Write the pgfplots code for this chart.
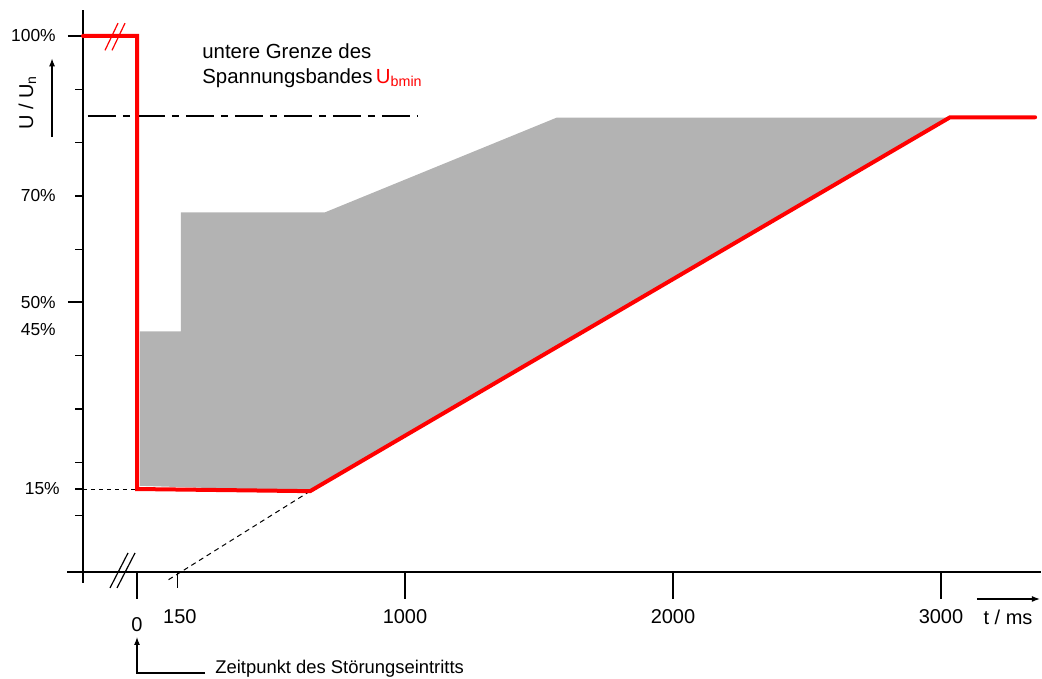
\documentclass[border=0pt]{standalone}
\usepackage{fontspec}
\setmainfont{Liberation Sans}
\usepackage{pgfplots}
\pgfplotsset{compat=1.18}
\usetikzlibrary{arrows.meta}
\definecolor{band}{RGB}{179,179,179}
\definecolor{ured}{RGB}{255,0,0}

\begin{document}
\begin{tikzpicture}
\begin{axis}[
    width=521pt, height=339.5pt, scale only axis,
    xmin=-511.2, xmax=3376.9,
    ymin=-20.64, ymax=106.75,
    hide axis, clip=false,
]
\coordinate (SW) at (rel axis cs:0,0);
\coordinate (NE) at (rel axis cs:1,1);

% permitted band
\addplot[fill=band, draw=none] coordinates {
    (11,44.6) (164,44.6) (164,66.9) (701,66.9) (1567,84.7)
    (3034,84.7) (646,14.6) (11,15.6)
};

% axes
\draw[line width=0.65pt] (-261,-0.56) -- (3373,-0.56);
\draw[line width=0.65pt] (-201.5,104.8) -- (-201.5,-2.6);

% y ticks
\pgfplotsinvokeforeach{100,50}{
    \draw[line width=1pt] (-257.5,#1) -- (-201.5,#1);
}
\pgfplotsinvokeforeach{90,80,70,60,40,30,20,15,10}{
    \draw[line width=0.65pt] (-231,#1) -- (-201.5,#1);
}
\pgfplotsinvokeforeach{100,70,50,45}{
    \node[anchor=east, inner sep=0pt, font=\fontsize{8.7}{10}\selectfont] at (-302,#1) {#1\%};
}
\node[anchor=east, inner sep=0pt, font=\fontsize{8.7}{10}\selectfont] at (-287,15) {15\%};

% x ticks
\draw[line width=1pt] (0,-0.56) -- (0,-5.63);
\draw[line width=0.5pt] (150,-0.56) -- (150,-3.56);
\pgfplotsinvokeforeach{1000,2000,3000}{
    \draw[line width=0.65pt] (#1,-0.56) -- (#1,-5.63);
    \node[inner sep=0pt, font=\fontsize{10}{12}\selectfont] at (#1,-9.0) {#1};
}
\node[inner sep=0pt, font=\fontsize{10}{12}\selectfont] at (0,-10.5) {0};
\node[inner sep=0pt, font=\fontsize{10}{12}\selectfont] at (160,-9.0) {150};
\node[inner sep=0pt, font=\fontsize{10}{12}\selectfont] at (3250,-9.0) {t / ms};
\draw[line width=0.6pt, -{Latex[length=4pt,width=3pt]}] (3134,-5.63) -- (3369,-5.63);

% axis labels
\node[rotate=90, anchor=base, inner sep=0pt, font=\fontsize{10}{12}\selectfont] at (-388,87.5) {U / U\textsubscript{n}};
\draw[line width=0.6pt, -{Latex[length=4pt,width=3pt]}] (-317,81) -- (-317,95.8);

% axis break marks
\draw[line width=0.6pt] (-100.7,-3.56) -- (-33.6,3.0);
\draw[line width=0.6pt] (-74.6,-3.56) -- (-7.5,3.0);

% guide lines
\addplot[black, line width=0.5pt, dash pattern=on 2pt off 2pt] coordinates {(-201.5,15) (0,15)};
\addplot[black, line width=0.5pt, dash pattern=on 2.5pt off 2pt] coordinates {(646,14.6) (116,-2.06)};

% lower limit of voltage band
\addplot[black, line width=1.2pt, dash pattern=on 14pt off 3.5pt on 3.5pt off 3.5pt] coordinates {(-183,84.94) (1045,84.94)};

% voltage profile
\addplot[ured, line width=2pt, line cap=round] coordinates {
    (-201.5,100) (0,100) (0,15) (646,14.6) (3034,84.75) (3351,84.75)
};
\draw[ured, line width=0.6pt] (-119.4,97.3) -- (-70.9,102.4);
\draw[ured, line width=0.6pt] (-93.3,97.3) -- (-44.8,102.4);

% annotations
\node[anchor=base west, inner sep=0pt, font=\fontsize{10.2}{12}\selectfont] at (242.5,95.8) {untere Grenze des};
\node[anchor=base west, inner sep=0pt, font=\fontsize{10.2}{12}\selectfont] at (242.5,91.1) {Spannungsbandes\,\textcolor{ured}{U\textsubscript{bmin}}};

\draw[line width=0.6pt, -{Latex[length=4pt,width=3pt]}] (254,-19.5) -- (0,-19.5) -- (0,-12.75);
\node[anchor=base west, inner sep=0pt, font=\fontsize{9.2}{11}\selectfont] at (291,-19.7) {Zeitpunkt des Störungseintritts};
\end{axis}
\pgfresetboundingbox
\path (SW) rectangle (NE);
\end{tikzpicture}
\end{document}
